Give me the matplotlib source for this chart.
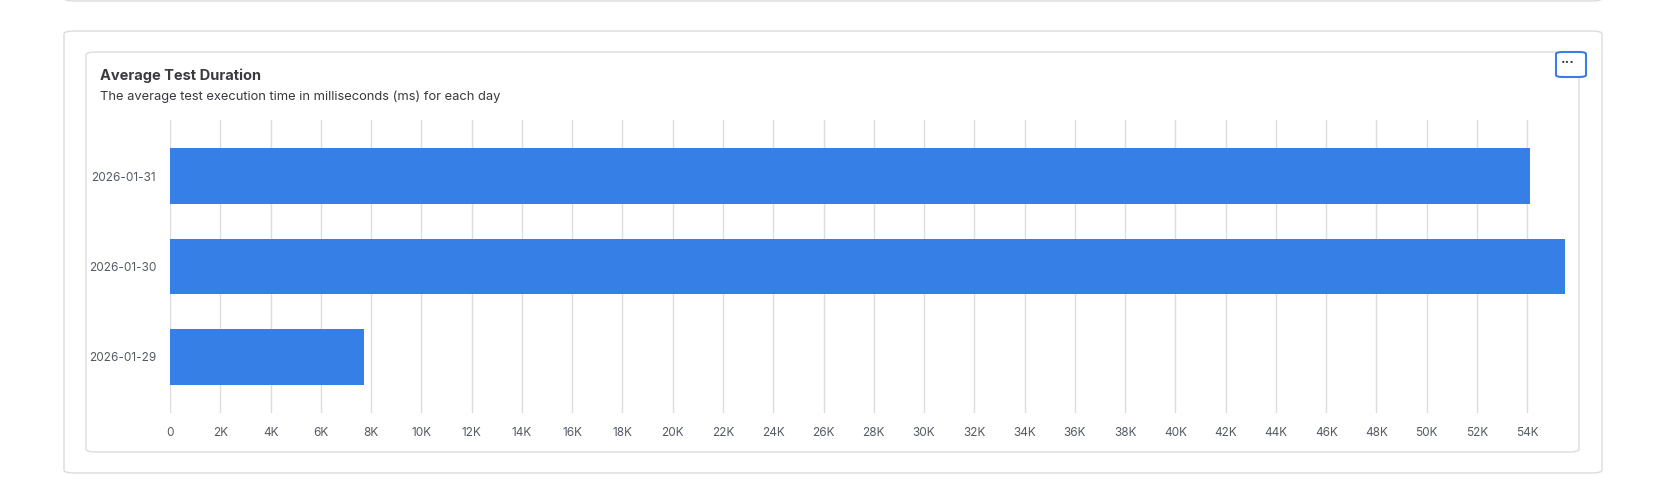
import matplotlib
matplotlib.use("Agg")
import matplotlib.pyplot as plt
from matplotlib.patches import FancyBboxPatch
from matplotlib.ticker import FuncFormatter

dates = ["2026-01-29", "2026-01-30", "2026-01-31"]
durations = [7720, 55500, 54100]
ticks = list(range(0, 54001, 2000))

plt.rcParams['font.family'] = ['Inter', 'DejaVu Sans']
W, H = 1659, 501
fig = plt.figure(figsize=(W/100, H/100), dpi=100)
fig.patch.set_facecolor('white')

def px(x, y, w, h):
    return [x/W, 1-(y+h)/H, w/W, h/H]

# cards
for (x0, y0, x1, y1) in [(64, -20, 1602, 1), (64, 31, 1602, 473), (86, 52, 1579, 452)]:
    fig.patches.append(FancyBboxPatch((x0/W, 1-y1/H), (x1-x0)/W, (y1-y0)/H,
        boxstyle="round,pad=0,rounding_size=0.006", transform=fig.transFigure,
        facecolor='white', edgecolor='#dcdcdc', linewidth=1, zorder=-5))

fig.text(100/W, 1-76/H, "Average Test Duration", fontsize=10.5, fontweight='bold',
         color='#3a3a40', va='center')
fig.text(100/W, 1-97/H, "The average test execution time in milliseconds (ms) for each day",
         fontsize=9.3, color='#3a3a40', va='center')
# menu button
fig.patches.append(FancyBboxPatch((1556/W, 1-77/H), 30/W, 25/H,
    boxstyle="round,pad=0,rounding_size=0.004", transform=fig.transFigure,
    facecolor='white', edgecolor='#3a7de6', linewidth=1.5, zorder=-4))
fig.text(1568/W, 1-63/H, "···", fontsize=10, fontweight='bold', color='#333', ha='center', va='center')

ax = fig.add_axes(px(170, 120, 1395, 293))
ax.set_zorder(5)
ax.barh(range(len(dates)), durations, height=0.61, color='#357fe6', zorder=3)
ax.set_xlim(0, 55500)
ax.set_ylim(-0.62, 2.62)
ax.set_yticks(range(len(dates)))
ax.set_yticklabels(dates)
ax.set_xticks(ticks)
ax.xaxis.set_major_formatter(FuncFormatter(lambda v, p: "0" if v == 0 else f"{int(v/1000)}K"))
ax.grid(axis='x', color='#dddddd', linewidth=1, zorder=0)
ax.set_axisbelow(True)
for s in ax.spines.values():
    s.set_visible(False)
ax.tick_params(axis='both', length=0, labelsize=8.5, colors='#555a63', pad=10)
ax.set_facecolor('none')
fig.savefig("out.png", dpi=100, facecolor='white')
